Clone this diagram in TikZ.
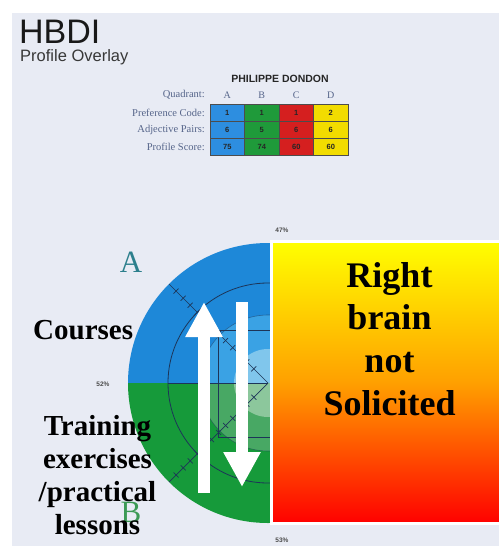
\documentclass[tikz,border=0pt]{standalone}
\usepackage{fontspec}
\setmainfont{Liberation Serif}
\newfontfamily\hsans{Liberation Sans}
\usetikzlibrary{arrows.meta}
\definecolor{bg}{HTML}{E8EBF4}
\definecolor{labc}{HTML}{56658A}
\definecolor{qA}{HTML}{2D8EE0}
\definecolor{qB}{HTML}{1F9A3A}
\definecolor{qC}{HTML}{D51F1F}
\definecolor{qD}{HTML}{F2DC00}
\definecolor{cblue}{HTML}{1E88D8}
\definecolor{cblue2}{HTML}{3AA2E4}
\definecolor{cblue3}{HTML}{80C6EC}
\definecolor{cgreen}{HTML}{169A3A}
\definecolor{cgreen2}{HTML}{48A864}
\definecolor{cgreen3}{HTML}{8CC79C}
\definecolor{cline}{HTML}{1D3558}
\definecolor{tealA}{HTML}{2C7F8C}
\definecolor{greenB}{HTML}{3C9A55}
\definecolor{midorange}{HTML}{FFA000}
\tikzset{
  cell/.style={draw=black!70, line width=0.5pt, minimum width=34.5pt, minimum height=17pt, inner sep=0pt, font=\hsans\bfseries\fontsize{7.5}{8}\selectfont, text=black!85},
  rowlab/.style={anchor=east, inner sep=0pt, font=\fontsize{10.5}{11}\selectfont, text=labc},
  pct/.style={font=\hsans\bfseries\fontsize{6.5}{7}\selectfont, text=black!70, inner sep=0pt},
  bigtxt/.style={font=\bfseries\fontsize{29}{33}\selectfont, align=center, inner sep=0pt},
  righttxt/.style={font=\bfseries\fontsize{36}{42.7}\selectfont, align=center, inner sep=0pt},
  warr/.style={white, line width=12pt, -{Triangle[width=35pt,length=35pt]}},
  ticks/.style={cline, line width=0.7pt}
}
\begin{document}
\begin{tikzpicture}[x=1pt,y=-1pt]
\useasboundingbox (0,0) rectangle (499,546);
\fill[white] (0,0) rectangle (499,546);
\fill[bg] (12,13) rectangle (499,546);

% title
\node[anchor=base west, inner sep=0pt, font=\hsans\fontsize{34}{34}\selectfont, text=black!90] (hbdi) at (19,43.5) {HBDI};
\node[anchor=base west, inner sep=0pt, font=\hsans\fontsize{16.5}{17}\selectfont, text=black!78] (sub) at (20,61) {Profile Overlay};

% table
\node[font=\hsans\bfseries\fontsize{10.5}{11}\selectfont, text=black!85, inner sep=0pt] (name) at (280,79) {PHILIPPE DONDON};
\node[rowlab] (lq) at (205,95) {Quadrant:};
\node[rowlab] (l1) at (205,112.5) {Preference Code:};
\node[rowlab] (l2) at (205,129.5) {Adjective Pairs:};
\node[rowlab] (l3) at (205,146.5) {Profile Score:};
\foreach \c/\q in {1/A,2/B,3/C,4/D}{
  \node[inner sep=0pt, font=\fontsize{10}{11}\selectfont, text=labc] (h\c) at ({192.75+34.5*\c},95) {\q};
}
\foreach \r/\va/\vb/\vc/\vd in {1/1/1/1/2, 2/6/5/6/6, 3/75/74/60/60}{
  \node[cell, fill=qA] (c\r1) at (227.25,{95.5+17*\r}) {\va};
  \node[cell, fill=qB] (c\r2) at (261.75,{95.5+17*\r}) {\vb};
  \node[cell, fill=qC] (c\r3) at (296.25,{95.5+17*\r}) {\vc};
  \node[cell, fill=qD] (c\r4) at (330.75,{95.5+17*\r}) {\vd};
}

% quadrant letters
\node[anchor=base, inner sep=0pt, font=\fontsize{31}{31}\selectfont, text=tealA] (qa) at (131,272) {A};
\node[anchor=base, inner sep=0pt, font=\fontsize{31}{31}\selectfont, text=greenB] (qb) at (131,522) {B};

% percentages
\node[pct] (p47) at (282,230) {47\%};
\node[pct] (p52) at (103,384) {52\%};
\node[pct] (p53) at (282,540) {53\%};

% circle
\coordinate (O) at (268,383);
\begin{scope}
  \clip (120,230) rectangle (272,383);
  \fill[cblue] (O) circle[radius=140];
  \fill[cblue2] (O) circle[radius=68];
  \fill[cblue3] (O) circle[radius=34];
\end{scope}
\begin{scope}
  \clip (120,383) rectangle (272,530);
  \fill[cgreen] (O) circle[radius=140];
  \fill[cgreen2] (O) circle[radius=68];
  \fill[cgreen3] (O) circle[radius=34];
\end{scope}
\begin{scope}
  \clip (120,230) rectangle (272,530);
  \draw[cline, line width=0.8pt] (O) circle[radius=100];
  \draw[cline, line width=0.6pt, opacity=0.5] (O) circle[radius=68];
  \draw[cline, line width=0.8pt] (168,383) -- (O);
  \draw[cline, line width=0.9pt] (272,330) -- (218,330) -- (218,437) -- (272,437);
  \draw[ticks] (O) -- ({268-0.707*140},{383-0.707*140});
  \draw[ticks] (O) -- ({268-0.707*140},{383+0.707*140});
  \foreach \r in {20,30,...,130}{
    \draw[ticks] ({268-0.707*\r+2.5},{383-0.707*\r-2.5}) -- ({268-0.707*\r-2.5},{383-0.707*\r+2.5});
    \draw[ticks] ({268-0.707*\r+2.5},{383+0.707*\r+2.5}) -- ({268-0.707*\r-2.5},{383+0.707*\r-2.5});
  }
\end{scope}

% gradient box
\node[draw=white, line width=3pt, top color=yellow, bottom color=red, middle color=midorange, minimum width=229pt, minimum height=282pt, inner sep=0pt] (box) at (386,382.5) {};
\node[righttxt, anchor=north] (rt) at (389.5,262) {Right\\brain\\not\\Solicited};

% arrows
\coordinate (u1) at (204,493);
\coordinate (u2) at (204,302);
\coordinate (d1) at (242,302);
\coordinate (d2) at (242,487);
\draw[warr] (u1) -- (u2);
\draw[warr] (d1) -- (d2);

% left texts
\node[bigtxt, anchor=base west] (courses) at (33,339) {Courses};
\node[bigtxt, anchor=north] (train) at (97.5,415) {Training\\exercises\\/practical\\lessons};
\end{tikzpicture}
\end{document}
